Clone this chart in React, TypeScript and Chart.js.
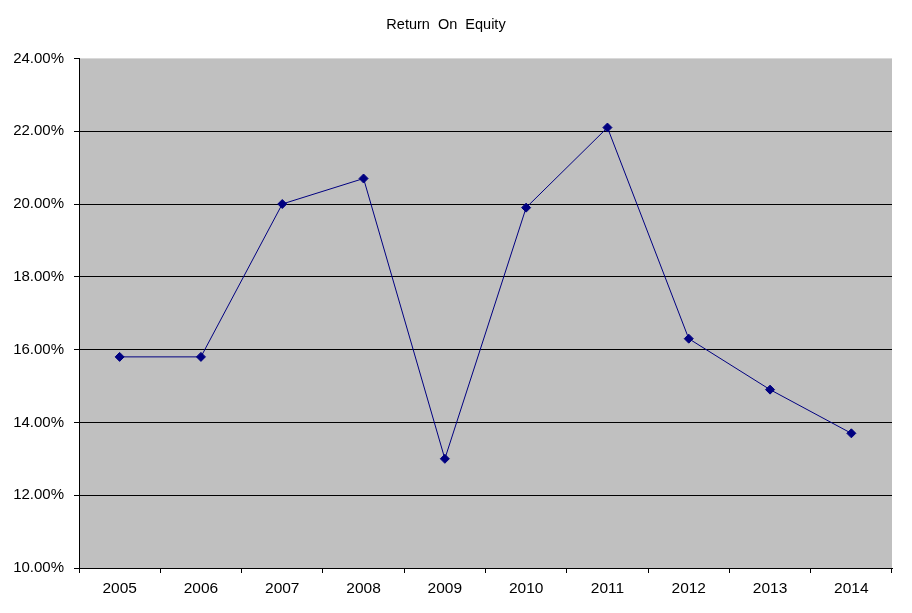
import React, { useEffect, useRef } from "react";
import { Chart, registerables } from "chart.js";

Chart.register(...registerables);

const years: string[] = ["2005", "2006", "2007", "2008", "2009", "2010", "2011", "2012", "2013", "2014"];
const roe: number[] = [15.8, 15.8, 20.0, 20.7, 13.0, 19.9, 22.1, 16.3, 14.9, 13.7];
const yMin = 10;
const yMax = 24;
const yStep = 2;

const FONT = "'Liberation Sans', Arial, sans-serif";

const plotBg = {
  id: "plotBg",
  beforeDraw(chart: any) {
    const { ctx, chartArea } = chart;
    if (!chartArea) return;
    ctx.save();
    ctx.fillStyle = "#C0C0C0";
    ctx.fillRect(chartArea.left, chartArea.top, chartArea.right - chartArea.left, chartArea.bottom - chartArea.top);
    ctx.restore();
  },
};

export default function App() {
  const ref = useRef<HTMLCanvasElement | null>(null);
  useEffect(() => {
    if (!ref.current) return;
    const chart = new Chart(ref.current, {
      type: "line",
      data: {
        labels: years,
        datasets: [
          {
            label: "Return On Equity",
            data: roe,
            borderColor: "#000080",
            backgroundColor: "#000080",
            borderWidth: 1,
            pointStyle: "rectRot",
            pointRadius: 4.5,
            pointHoverRadius: 4.5,
            pointBorderWidth: 1,
            tension: 0,
          },
        ],
      },
      options: {
        animation: false,
        responsive: true,
        maintainAspectRatio: false,
        layout: { padding: { left: 0, right: 20, top: 0, bottom: 0 } },
        plugins: {
          legend: { display: false },
          tooltip: { enabled: false },
          title: {
            display: true,
            text: "Return  On  Equity",
            color: "#000",
            font: { family: FONT, size: 14.5, weight: "normal" },
            padding: { top: 16, bottom: 25 },
          },
        },
        scales: {
          x: {
            type: "category",
            offset: true,
            grid: {
              offset: true,
              drawOnChartArea: false,
              color: "#000",
              tickColor: "#000",
              tickLength: 5,
            },
            border: { display: true, color: "#000", width: 1 },
            ticks: {
              color: "#000",
              font: { family: FONT, size: 15.5 },
              padding: 6,
              maxRotation: 0,
            },
            afterFit(scale: any) {
              scale.height = 45;
            },
          },
          y: {
            min: yMin,
            max: yMax,
            ticks: {
              stepSize: yStep,
              color: "#000",
              font: { family: FONT, size: 15 },
              padding: 10,
              callback: (v: any) => Number(v).toFixed(2) + "%",
            },
            grid: {
              color: (ctx: any) => (ctx.tick && ctx.tick.value === yMax ? "rgba(0,0,0,0)" : "#000"),
              tickColor: "#000",
              tickLength: 5,
              lineWidth: 1,
            },
            border: { display: true, color: "#000", width: 1 },
            afterFit(scale: any) {
              scale.width = 79;
            },
          },
        },
      },
      plugins: [plotBg],
    });
    return () => chart.destroy();
  }, []);
  return (
    <div style={{ position: "fixed", left: 0, top: 0, width: 912, height: 613, background: "#fff" }}>
      <canvas ref={ref} />
    </div>
  );
}
